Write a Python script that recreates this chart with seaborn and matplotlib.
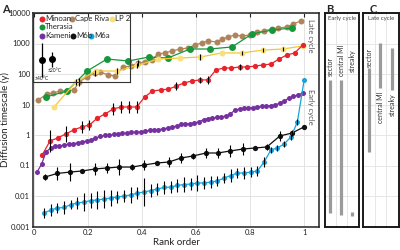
import matplotlib
matplotlib.use("Agg")
import matplotlib.pyplot as plt
import seaborn as sns
import pandas as pd
import numpy as np
from matplotlib.ticker import FixedLocator, FixedFormatter

##########################################################################
#                     Values
##########################################################################
# rank order (x) and diffusion timescale in years (y) for each sample set
minoan_rank = [0.030, 0.059, 0.088, 0.117, 0.146, 0.176, 0.205, 0.234, 0.263, 0.292,
               0.322, 0.351, 0.380, 0.409, 0.438, 0.468, 0.497, 0.526, 0.555, 0.584,
               0.614, 0.643, 0.672, 0.701, 0.730, 0.760, 0.789, 0.818, 0.847, 0.876,
               0.906, 0.935, 0.964, 0.993]
minoan_t = [0.22, 0.64, 0.80, 1.08, 1.46, 1.83, 2.13, 3.6, 4.9, 7.1,
            8.3, 8.3, 8.3, 17.6, 27.7, 30, 32, 40, 51, 59,
            64, 64, 135, 157, 157, 170, 170, 183, 197, 213,
            310, 420, 490, 870]
minoan_err = [0, 0.35, 0, 0.25, 0, 0.2, 0.15, 0, 0, 0.2,
              0.2, 0.2, 0.2, 0, 0, 0, 0, 0.12, 0, 0,
              0.1, 0.12, 0, 0, 0, 0.1, 0, 0, 0, 0,
              0, 0, 0, 0]

cape_rank = [0.015, 0.048, 0.070, 0.096, 0.122, 0.148, 0.166, 0.196, 0.226, 0.244,
             0.274, 0.299, 0.329, 0.359, 0.384, 0.410, 0.436, 0.458, 0.484, 0.510,
             0.540, 0.569, 0.595, 0.620, 0.643, 0.677, 0.695, 0.717, 0.743, 0.769,
             0.799, 0.824, 0.850, 0.880, 0.902, 0.935, 0.958, 0.987]
cape_t = [14.1, 22.1, 23.8, 27.7, 27.7, 30, 55, 80, 108, 116,
          93, 86, 170, 183, 230, 247, 290, 450, 490, 570,
          660, 710, 890, 1040, 1210, 1120, 1400, 1630, 1900, 1760,
          1900, 2380, 2570, 2990, 3220, 3470, 4360, 5470]
cape_err = [0, 0, 0, 0, 0, 0, 0.12, 0, 0.1, 0,
            0, 0, 0, 0, 0.1, 0, 0, 0, 0, 0,
            0, 0, 0, 0, 0, 0, 0, 0, 0, 0,
            0, 0, 0, 0, 0, 0, 0, 0]

therasia_rank = [0.044, 0.122, 0.196, 0.270, 0.348, 0.425, 0.495, 0.577, 0.650, 0.732,
                 0.806, 0.880, 0.954]
therasia_t = [17.6, 27.7, 125, 310, 267, 360, 335, 660, 660, 770, 2050, 2770, 3220]
therasia_err = [0, 0, 0, 0, 0, 0, 0, 0, 0, 0, 0, 0, 0]

lp2_rank = [0.074, 0.155, 0.229, 0.307, 0.381, 0.458, 0.540, 0.614, 0.695, 0.769,
            0.847, 0.921, 0.994]
lp2_t = [8.3, 55, 125, 125, 190, 310, 335, 360, 490, 490, 610, 660, 830]
lp2_err = [0, 0.1, 0, 0.1, 0.08, 0, 0, 0.1, 0, 0.08, 0.08, 0.08, 0]

kameni_rank = [0.011, 0.028, 0.044, 0.061, 0.078, 0.094, 0.111, 0.128, 0.144, 0.161,
               0.177, 0.194, 0.211, 0.227, 0.244, 0.261, 0.277, 0.294, 0.311, 0.327,
               0.344, 0.360, 0.377, 0.394, 0.410, 0.427, 0.444, 0.460, 0.477, 0.494,
               0.510, 0.527, 0.543, 0.560, 0.577, 0.593, 0.610, 0.627, 0.643, 0.660,
               0.676, 0.693, 0.710, 0.726, 0.743, 0.760, 0.776, 0.793, 0.809, 0.826,
               0.843, 0.859, 0.876, 0.893, 0.909, 0.926, 0.942, 0.959, 0.976, 0.993]
kameni_t = [0.061, 0.112, 0.277, 0.375, 0.42, 0.436, 0.47, 0.507, 0.526, 0.547,
            0.589, 0.635, 0.686, 0.80, 0.894, 0.964, 1.0, 1.04, 1.08, 1.12,
            1.16, 1.21, 1.25, 1.25, 1.35, 1.41, 1.46, 1.51, 1.57, 1.70,
            1.83, 1.97, 2.21, 2.30, 2.38, 2.47, 2.67, 3.22, 3.47, 3.61,
            3.75, 3.89, 4.2, 4.89, 6.6, 7.1, 7.4, 7.7, 7.97, 8.3,
            8.6, 8.93, 9.27, 9.63, 11.2, 13.0, 16.3, 18.3, 20.5, 23.8]

m6b_rank = [0.041, 0.085, 0.133, 0.177, 0.226, 0.270, 0.314, 0.362, 0.407, 0.455,
            0.499, 0.543, 0.588, 0.636, 0.680, 0.725, 0.773, 0.817, 0.861, 0.909,
            0.954, 0.998]
m6b_t = [0.042, 0.0547, 0.061, 0.066, 0.077, 0.083, 0.089, 0.089, 0.104, 0.121,
         0.130, 0.176, 0.205, 0.257, 0.257, 0.299, 0.347, 0.375, 0.405, 0.927,
         1.16, 1.83]
m6b_err = [0.1, 0.2, 0.3, 0, 0.2, 0.15, 0.25, 0.1, 0.15, 0,
           0.15, 0.15, 0.1, 0.15, 0.15, 0.2, 0.2, 0, 0.1, 0.15,
           0.1, 0]

m6a_rank = [0.037, 0.062, 0.086, 0.111, 0.136, 0.160, 0.185, 0.210, 0.234, 0.259,
            0.284, 0.308, 0.333, 0.358, 0.382, 0.407, 0.432, 0.456, 0.481, 0.506,
            0.530, 0.555, 0.580, 0.604, 0.629, 0.654, 0.678, 0.703, 0.728, 0.752,
            0.777, 0.802, 0.826, 0.851, 0.876, 0.900, 0.925, 0.950, 0.974, 0.999]
m6a_t = [0.00277, 0.00348, 0.00405, 0.0042, 0.00526, 0.00589, 0.00635, 0.00711, 0.0074, 0.00798,
         0.0086, 0.00927, 0.0100, 0.0108, 0.0125, 0.0135, 0.0151, 0.0170, 0.0190, 0.0197,
         0.0221, 0.0238, 0.0247, 0.0267, 0.0267, 0.0288, 0.0310, 0.039, 0.047, 0.0568,
         0.0568, 0.061, 0.066, 0.130, 0.322, 0.375, 0.507, 0.859, 2.67, 63.7]
m6a_err = [0.15, 0.2, 0.15, 0.2, 0.15, 0.2, 0.3, 0.25, 0.3, 0.3,
           0.25, 0.2, 0.2, 0.25, 0.2, 0.45, 0.2, 0.2, 0.2, 0.2,
           0.2, 0.25, 0.2, 0.25, 0.2, 0.2, 0.15, 0.15, 0.2, 0.15,
           0.2, 0.15, 0.15, 0.15, 0.1, 0.1, 0.1, 0.1, 0.1, 0]

# panels B / C: timescale ranges by zoning type
zone_types = ["sector", "central MI", "streaky"]
early_lo = [0.0028, 0.0024, 0.0022]
early_hi = [64, 64, 0.0030]
late_lo = [0.28, 35, 30]
late_hi = [157, 1040, 710]

decades = [0.001, 0.01, 0.1, 1, 10, 100, 1000, 10000]
decade_labels = ["0.001", "0.01", "0.1", "1", "10", "100", "1000", "10000"]

##########################################################################
#                               Styling
##########################################################################
sns.set_theme(style="whitegrid")
plt.rcParams['font.family'] = ['Lato', 'DejaVu Sans']
GRID = "#e3e3e3"

series = [
    # name, rank, t, err, line colour, marker colour, marker size
    ("Cape Riva", cape_rank, cape_t, cape_err, "#b0845a", "#b0845a", 4.3),
    ("Therasia", therasia_rank, therasia_t, therasia_err, "#17973b", "#17973b", 5.0),
    ("LP 2", lp2_rank, lp2_t, lp2_err, "#f2c830", "#f8df7a", 4.3),
    ("Minoan", minoan_rank, minoan_t, minoan_err, "#e8232b", "#e8232b", 3.8),
    ("Kameni", kameni_rank, kameni_t, None, "#7631a0", "#7631a0", 3.6),
    ("M6b", m6b_rank, m6b_t, m6b_err, "#111111", "#111111", 3.8),
    ("M6a", m6a_rank, m6a_t, m6a_err, "#1aa2d8", "#1aa2d8", 3.6),
]
colours = {s[0]: s[5] for s in series}

MAIN = [0.0825, 0.094, 0.715, 0.854]
fig = plt.figure(figsize=(4, 2.5), dpi=100)
ax = fig.add_axes(MAIN)

for name, rank, t, err, lc, mc, ms in series:
    df = pd.DataFrame({"rank": rank, "t": t})
    sns.lineplot(data=df, x="rank", y="t", ax=ax, color=lc, linewidth=0.9,
                 marker="o", markersize=ms, markerfacecolor=mc, markeredgewidth=0,
                 estimator=None, sort=False, zorder=2)
    if err is not None:
        e = np.array(err)
        tt = np.array(t)
        keep = e > 0
        ax.vlines(np.array(rank)[keep], tt[keep] / 10 ** e[keep], tt[keep] * 10 ** e[keep],
                  color="black", linewidth=0.8, zorder=3)

ax.set_yscale("log")
ax.set_xlim(-0.004, 1.054)
ax.set_ylim(0.001, 10000)
ax.yaxis.set_major_locator(FixedLocator(decades))
ax.yaxis.set_major_formatter(FixedFormatter(decade_labels))
ax.yaxis.set_minor_locator(FixedLocator([]))
ax.set_xticks([0, 0.2, 0.4, 0.6, 0.8, 1])
ax.set_xticklabels(["0", "0.2", "0.4", "0.6", "0.8", "1"])
ax.grid(True, color=GRID, linewidth=0.7)
ax.tick_params(axis="both", labelsize=5.5, length=0, pad=2, colors="#222222")
ax.tick_params(axis="x", top=True, direction="in", length=3, width=0.8, color="#222222")
ax.set_xlabel("Rank order", fontsize=7, labelpad=1, color="#222222")
ax.set_ylabel("Diffusion timescale (y)", fontsize=7, color="#222222")
ax.yaxis.set_label_coords(-0.08, 0.5)
for sp in ax.spines.values():
    sp.set_color("#222222")
    sp.set_linewidth(1.1)

ax.text(0.972, 0.895, "Late cycle", rotation=-90, fontsize=5.5, color="#555555",
        ha="center", va="center", transform=ax.transAxes)
ax.text(0.972, 0.56, "Early cycle", rotation=-90, fontsize=5.5, color="#555555",
        ha="center", va="center", transform=ax.transAxes)

# legend box with error-bar key (transparent, the lines show through it)
lw_, lh_ = 0.339 * MAIN[2], 0.323 * MAIN[3]
leg = fig.add_axes([MAIN[0], MAIN[1] + MAIN[3] - lh_, lw_, lh_])
leg.set_xlim(0, 1)
leg.set_ylim(0, 1)
leg.set_xticks([])
leg.set_yticks([])
leg.patch.set_alpha(0)
leg.grid(False)
for sp in leg.spines.values():
    sp.set_color("#333333")
    sp.set_linewidth(0.8)
legend_items = [("Minoan", 0.093, 0.913), ("Cape Riva", 0.402, 0.913), ("LP 2", 0.814, 0.913),
                ("Therasia", 0.093, 0.797),
                ("Kameni", 0.093, 0.667), ("M6b", 0.412, 0.667), ("M6a", 0.598, 0.667)]
for name, lx, ly in legend_items:
    leg.plot([lx], [ly], marker="o", markersize=4.3, color=colours[name], markeredgewidth=0)
    leg.text(lx + 0.035, ly, name, fontsize=5.6, va="center", ha="left", color="#222222")
leg.errorbar([0.093], [0.32], yerr=[[0.248], [0.245]], fmt="o", color="black",
             markersize=4.0, elinewidth=0.9, capsize=0)
leg.errorbar([0.196], [0.333], yerr=[[0.116], [0.102]], fmt="o", color="black",
             markersize=4.0, elinewidth=0.9, capsize=0)
leg.text(0.22, 0.16, "±20°C", fontsize=3.6, ha="center", va="center", color="#222222")
leg.text(0.02, 0.055, "±40°C", fontsize=3.6, ha="left", va="center", color="#222222")

# panels B and C
def zone_panel(rect, lo, hi, title, label_y, label_va):
    bx = fig.add_axes(rect)
    pos = [1, 2, 3]
    bx.vlines(pos, lo, hi, color="#9a9a9a", linewidth=2.3)
    bx.set_yscale("log")
    bx.set_ylim(0.001, 10000)
    bx.set_xlim(0.5, 3.6)
    bx.yaxis.set_major_locator(FixedLocator(decades))
    bx.yaxis.set_minor_locator(FixedLocator([]))
    bx.set_xticks([1.5, 2.5])
    bx.set_xticklabels([])
    bx.set_yticklabels([])
    bx.tick_params(length=0)
    bx.grid(True, color=GRID, linewidth=0.6)
    bx.set_xlabel("")
    bx.set_ylabel("")
    for sp in bx.spines.values():
        sp.set_color("#1a1a1a")
        sp.set_linewidth(1.4)
    bx.text(0.5, 0.972, title, fontsize=4.3, ha="center", va="center",
            color="#444444", transform=bx.transAxes)
    for p, name, ly, va in zip(pos, zone_types, label_y, label_va):
        bx.text(p, ly, name, rotation=90, fontsize=5, ha="center", va=va, color="#333333")
    return bx

zone_panel([0.8125, 0.094, 0.085, 0.854], early_lo, early_hi, "Early cycle",
           [88, 88, 116], ["bottom", "bottom", "bottom"])
zone_panel([0.9075, 0.094, 0.09, 0.854], late_lo, late_hi, "Late cycle",
           [175, 26, 24], ["bottom", "top", "top"])

fig.text(0.005, 0.985, "A", fontsize=8, fontweight="bold", va="top", ha="left")
fig.text(0.815, 0.985, "B", fontsize=8, fontweight="bold", va="top", ha="left")
fig.text(0.925, 0.985, "C", fontsize=8, fontweight="bold", va="top", ha="left")

fig.savefig("out.png", dpi=100)
